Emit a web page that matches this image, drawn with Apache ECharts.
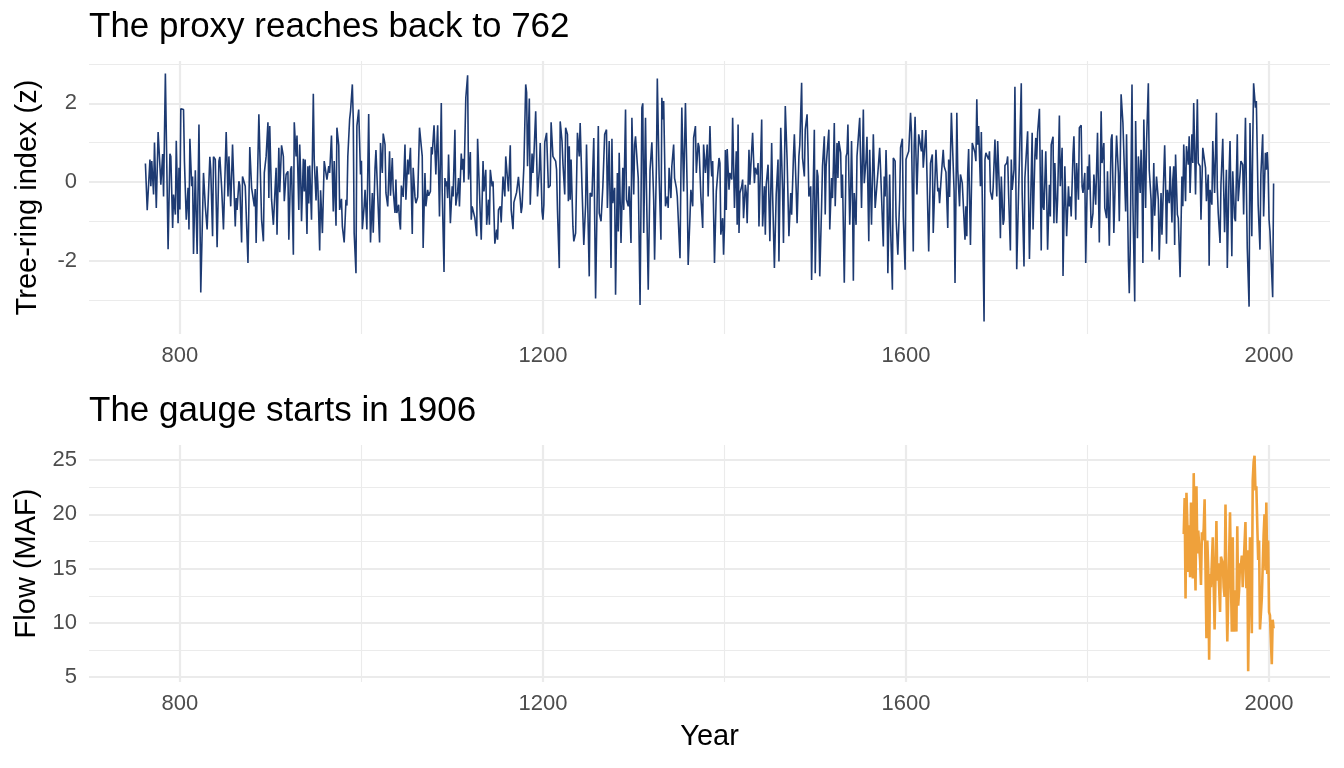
<!DOCTYPE html>
<html>
<head>
<meta charset="utf-8">
<script src="https://cdn.jsdelivr.net/npm/echarts@6/dist/echarts.min.js"></script>
<style>
  html, body { margin: 0; padding: 0; background: #ffffff; }
  #chart { width: 1344px; height: 768px; }
</style>
</head>
<body>
<div id="chart"></div>
<script>
// ---------- data ----------
const tree_years = [
762,764,767,768,769,771,772,774,776,778,779,781,782,784,787,789,790,792,793,795,796,797,798,799,800,801,804,805,807,809,810,811,813,814,815,817,818,819,821,822,823,825,826,828,830,833,834,836,837,839,841,843,844,846,848,851,853,854,856,858,861,862,863,865,866,868,869,871,872,875,877,879,880,882,883,884,887,890,892,893,895,897,898,899,901,903,905,906,907,909,910,912,914,915,
917,919,920,922,923,925,926,928,929,931,932,933,934,936,937,938,940,941,942,943,945,947,948,950,951,952,954,955,957,959,961,962,964,965,967,969,970,972,973,975,976,978,979,981,983,984,985,987,988,990,991,992,994,995,997,999,1000,1001,1003,1004,1006,1008,1009,1010,1012,1013,1015,1016,1018,1020,1021,1023,1024,1026,1027,1029,1031,1032,1034,1035,1037,1038,1039,1041,1042,1043,1044,1046,1048,1049,1051,1052,1054,1056,1057,1059,1060,1062,1064,1065,1067,1068,1070,1071,
1073,1074,1076,1077,1078,1080,1082,1083,1084,1086,1088,1089,1091,1092,1093,1094,1095,1096,1098,1100,1101,1103,1104,1106,1107,1108,1110,1111,1112,1113,1115,1117,1118,1120,1121,1122,1124,1125,1127,1128,1129,1131,1132,1134,1135,1137,1138,1140,1141,1142,1144,1145,1147,1149,1150,1151,1153,1154,1156,1158,1159,1161,1162,1164,1165,1167,1168,1170,1171,1173,1175,1176,1177,1179,1181,1182,1183,1185,1186,1188,1189,1190,1192,1194,1196,1197,1199,1200,1201,1202,1204,1206,1208,1209,1211,1212,1214,1215,1216,1218,1219,1221,1222,1224,1225,1227,1228,
1229,1230,1231,1233,1234,1236,1238,1240,1241,1243,1245,1247,1248,1250,1251,1252,1254,1256,1258,1261,1262,1264,1266,1268,1270,1271,1273,1275,1276,1277,1279,1280,1282,1283,1284,1286,1288,1289,1291,1292,1294,1295,1297,1298,1300,1301,1302,1304,1305,1307,1309,1310,1311,1313,1314,1316,1318,1320,1322,1323,1325,1326,1328,1330,1331,1332,1333,1335,1337,1338,1339,1341,1342,1344,1345,1347,1348,1351,1352,1353,1355,1357,1359,1360,1362,1363,1365,1366,1368,1369,1371,1372,1374,1376,1377,1379,1381,1382,1384,1385,
1386,1387,1389,1391,1392,1394,1395,1396,1398,1399,1400,1401,1402,1403,1405,1406,1408,1409,1410,1411,1413,1414,1415,1416,1417,1419,1420,1421,1423,1424,1425,1427,1428,1430,1431,1433,1434,1436,1437,1438,1439,1441,1442,1444,1445,1446,1448,1449,1450,1452,1453,1455,1457,1459,1460,1462,1464,1465,1467,1469,1471,1473,1474,1476,1477,1479,1480,1482,1483,1485,1486,1488,1489,1491,1492,1493,1495,1496,1498,1499,1500,1502,1503,1505,1507,1508,1510,1511,1512,1514,1515,1516,1518,1519,1520,1521,1522,1524,1525,1526,1528,1529,1530,1531,1532,1534,1535,1536,1538,1539,1540,
1541,1542,1543,1545,1546,1548,1549,1551,1553,1554,1556,1557,1559,1560,1562,1564,1566,1567,1569,1571,1572,1573,1575,1576,1577,1578,1579,1580,1582,1583,1585,1586,1588,1589,1591,1593,1594,1596,1597,1599,1600,1601,1603,1605,1606,1608,1609,1610,1612,1614,1615,1617,1618,1619,1622,1624,1625,1627,1629,1630,1632,1633,1635,1636,1637,1639,1641,1642,1644,1646,1647,1648,1650,1651,1653,1654,1656,1657,1659,1660,1662,1663,1665,1666,1667,1668,1669,1671,1673,1674,1676,1677,1678,1679,1680,1682,1683,1686,1687,1688,1690,1691,1692,1693,1695,1696,1698,
1700,1701,1703,1704,1705,1707,1708,1709,1711,1712,1713,1715,1716,1717,1719,1720,1722,1724,1725,1727,1728,1730,1731,1733,1734,1736,1739,1740,1742,1743,1744,1745,1747,1749,1750,1751,1752,1754,1755,1756,1758,1759,1760,1762,1763,1764,1766,1767,1769,1770,1772,1773,1775,1777,1779,1780,1781,1782,1784,1785,1787,1788,1790,1791,1793,1794,1795,1797,1798,1800,1801,1802,1804,1806,1807,1809,1811,1813,1815,1816,1818,1819,1821,1822,1823,1824,1826,1827,1829,1831,1832,1834,1835,1836,1837,1839,1840,1842,1843,1845,1846,1847,1849,1850,1852,1853,
1855,1856,1858,1859,1860,1861,1862,1864,1865,1867,1868,1870,1871,1873,1874,1876,1878,1879,1881,1882,1885,1886,1887,1888,1890,1891,1893,1894,1895,1896,1897,1899,1900,1902,1904,1905,1906,1908,1909,1911,1912,1913,1915,1916,1917,1919,1921,1922,1924,1925,1927,1928,1930,1931,1933,1934,1935,1937,1938,1940,1942,1943,1944,1946,1947,1949,1950,1951,1953,1954,1956,1957,1959,1960,1962,1963,1965,1966,1968,1969,1971,1972,1974,1975,1976,1978,1979,1981,1982,1983,1985,1986,1988,1989,1990,1991,1993,1994,1996,1997,1998,1999,2000,2001,2004,2005
];
const tree_z = [
0.47,-0.72,0.57,-0.11,0.53,-0.32,1.0,-0.66,1.27,0.4,-0.07,0.71,-0.37,2.76,-1.71,0.72,0.65,-1.17,-0.32,-0.83,1.05,1.0,-1.05,0.36,-0.7,1.86,1.84,0.53,-0.96,-0.15,-1.21,1.1,-0.11,0.14,-1.83,0.3,-0.88,-1.83,1.46,1.5,-2.81,-0.79,0.23,-0.62,-1.21,0.64,0.31,-1.38,0.64,0.57,-1.66,0.53,0.64,-0.15,-1.21,1.27,-0.37,0.65,-0.62,0.95,-1.13,-0.41,-0.71,0.02,-0.09,-1.54,0.14,0.1,-0.11,-2.06,0.89,-0.15,-0.2,-0.62,-0.18,-1.55,1.72,-0.96,-1.51,0.23,0.65,1.52,-0.41,1.42,-0.45,-1.09,-0.11,0.36,-1.34,0.87,-0.26,0.93,0.65,-0.49,
0.19,0.27,-1.47,0.31,0.4,-1.85,1.52,0.65,1.18,-0.71,0.95,0.23,-1.0,0.59,-0.24,0.57,-1.32,0.4,-0.55,0.42,-0.96,2.24,0.57,-0.47,0.4,-0.07,-1.74,-0.21,-1.3,0.53,0.57,0.06,0.4,0.23,1.18,-0.75,0.53,-1.11,1.38,0.93,-0.71,-0.43,-1.13,-1.54,-0.45,-0.6,0.64,1.59,1.8,2.48,1.59,-1.3,-2.32,1.42,1.84,0.19,0.54,-1.2,-0.62,-0.2,-1.21,1.73,-0.11,-1.54,-0.28,-1.29,0.36,0.81,0.84,-1.54,0.99,0.23,1.23,0.95,-0.28,-0.62,0.78,-0.35,0.61,-0.2,-0.79,0.06,-0.79,-0.58,-1.0,-1.21,-0.09,-0.38,0.95,-0.45,0.57,0.19,0.87,-1.32,0.36,-0.38,-0.54,-0.38,1.38,1.42,0.65,-1.68,0.23,-0.62,
-0.2,-0.35,-0.24,0.89,0.7,1.44,0.19,0.89,1.44,-0.88,2.01,-0.24,-2.29,0.1,-0.11,0.02,-0.41,0.7,-1.05,-0.11,-0.37,1.33,-0.6,-0.24,0.1,-0.62,0.72,0.31,0.59,-0.01,2.14,2.71,0.06,0.76,-0.96,-0.62,-0.58,-0.92,-1.38,1.1,1.08,-0.88,-1.47,0.53,-0.24,0.31,-1.09,-0.45,-1.09,0.31,-0.11,0.02,-1.57,-1.21,-1.47,-0.71,-0.62,-1.03,0.14,-0.37,0.65,0.64,-0.24,0.93,-0.71,-1.2,-0.52,-0.49,-0.26,0.13,-0.45,-0.79,-0.62,0.4,2.48,2.27,0.4,2.12,-0.58,0.72,0.23,0.65,1.8,-0.37,0.31,0.99,-0.75,-0.96,-0.58,1.01,1.25,-0.15,-0.09,1.52,0.65,0.61,0.53,0.31,-0.71,-2.19,1.54,1.04,0.48,-0.32,1.38,1.21,-0.49,
0.91,-0.45,0.57,-1.13,-1.51,-1.3,1.25,0.65,1.5,-0.11,-1.6,-0.58,0.95,0.99,-2.4,-0.28,-0.37,1.12,-2.96,1.42,-0.79,-1.0,-0.11,1.21,1.33,-0.66,1.04,-2.19,1.1,-0.54,-0.15,-2.87,0.23,-1.26,0.74,-1.55,0.36,-0.71,1.84,-0.45,-0.62,-0.11,-1.55,1.63,-0.32,0.95,1.16,0.44,0.1,-3.13,1.89,2.0,-1.3,1.63,-0.11,-2.74,0.31,1.01,-0.45,-1.98,0.4,2.63,0.14,-1.47,2.14,1.59,2.06,-0.62,-0.37,-0.66,0.36,-0.41,0.4,0.95,0.1,-0.15,-0.37,-1.94,0.19,1.89,-0.24,2.01,-0.28,-2.11,-0.88,-0.2,-0.62,1.12,1.42,0.23,0.99,0.89,-0.37,-1.17,0.95,0.23,0.95,-0.37,1.42,0.57,
0.14,0.53,-2.06,-0.24,-0.2,0.61,0.48,-1.34,-0.92,-1.85,-1.13,0.81,-0.71,0.84,-0.2,0.23,0.06,1.63,0.48,-0.66,0.78,-1.09,1.46,-1.3,-0.28,-0.11,0.06,-0.92,-0.07,-0.28,-1.05,0.82,-0.07,0.82,1.25,-0.03,0.36,0.19,0.48,-1.13,-1.17,1.59,-1.13,-0.11,-1.34,-0.07,0.44,-0.45,-1.51,0.99,-0.28,-2.19,-0.32,0.57,-2.02,1.38,-0.2,-1.55,1.93,0.57,-1.38,-0.28,-0.83,0.65,1.21,-0.2,-1.05,0.65,0.95,2.52,0.61,0.14,1.33,1.72,0.82,-0.37,-0.11,-2.49,0.14,1.33,-2.32,0.31,0.14,-2.4,-0.62,0.4,1.16,-0.83,0.4,0.36,1.33,-1.21,0.1,-0.41,0.4,1.5,-0.62,0.99,0.1,1.04,0.74,-0.41,0.19,0.19,-2.56,0.65,0.74,1.46,-1.09,-0.28,1.04,
-0.28,-2.51,-0.28,-1.09,0.65,0.65,1.63,-0.66,1.84,-0.03,0.57,1.15,-1.51,0.82,-1.09,1.21,-0.66,-0.37,0.23,0.87,0.31,0.31,-1.64,0.14,-0.37,0.81,-0.11,-2.32,0.19,-1.13,-2.74,0.61,0.53,-0.88,-1.85,-0.45,0.87,1.1,-0.88,-2.23,0.57,0.65,0.78,1.76,1.25,-1.77,0.91,1.66,-0.32,1.21,1.23,0.78,1.32,0.36,1.32,-0.75,-1.77,0.48,0.7,-1.3,-1.34,0.82,-0.24,-0.15,-0.54,0.19,0.82,0.4,0.25,-1.17,0.57,-0.38,1.76,1.08,-0.24,-2.57,1.76,0.31,-0.62,0.19,-0.03,0.02,-1.47,-0.62,-1.38,0.23,0.84,-1.6,0.99,1.01,0.74,0.53,2.1,0.95,1.42,-0.11,1.27,-3.55,0.57,0.74,0.78,0.57,0.78,-0.24,-0.45,-0.15,1.08,
-0.37,1.04,-0.28,-1.43,0.14,-1.09,-0.96,0.42,0.48,0.65,-0.28,-1.74,0.57,-0.2,0.31,2.42,-2.22,-0.28,0.57,2.51,-0.28,-2.15,0.1,0.14,1.29,-1.96,1.25,-1.21,0.65,1.12,0.57,1.25,1.86,-1.74,0.82,-0.62,-0.71,0.78,-0.32,-1.72,-0.07,-0.88,0.95,1.15,-1.05,0.48,-1.05,-0.45,1.69,-0.11,0.87,-2.39,0.4,-1.38,-0.11,-0.62,-0.37,-0.88,0.7,1.16,-0.96,0.48,-0.45,1.38,1.44,-0.11,-0.28,0.23,-2.06,0.4,-0.2,0.7,-1.17,-0.79,0.19,-0.58,1.25,-1.54,1.8,0.48,0.99,-0.66,-0.92,0.27,-0.71,-1.62,1.08,1.21,-1.3,0.44,1.18,0.23,-1.0,0.36,2.23,1.5,1.55,-0.75,1.21,-1.98,-2.83,-1.72,2.48,-0.54,-3.04,1.55,
-1.43,0.65,-0.28,0.82,0.06,-2.06,1.59,-0.66,0.99,2.51,0.31,-0.45,-1.77,0.48,-0.86,0.14,-0.45,-1.98,-0.28,-1.34,0.93,-0.07,-1.57,-0.2,-0.54,0.4,-1.03,0.06,0.4,-1.6,0.7,-0.83,-0.92,-2.42,0.14,-0.62,0.95,-0.49,0.91,0.44,1.16,-0.28,1.21,0.48,2.01,-0.32,2.1,0.48,0.4,-0.96,0.87,0.82,0.36,-0.49,0.19,-2.13,-0.2,-0.58,1.04,-0.28,1.76,-0.15,-0.79,-1.55,-0.07,1.1,-0.15,-1.28,0.31,-2.19,0.27,1.04,-1.89,0.27,-0.92,-1.0,1.21,-0.49,-0.45,0.53,0.44,-0.83,1.63,-0.11,-1.68,-3.17,1.5,-1.38,0.95,2.51,1.89,2.06,-0.58,-0.62,-1.72,0.19,1.21,-0.88,0.74,0.31,0.76,0.27,-0.96,-1.26,-2.93,-0.04
];

const gauge_years = [
1906,1907,1908,1909,1910,1911,1912,1913,1914,1916,1917,1918,1919,1920,1921,1922,1924,1925,1926,1927,1928,1929,1931,1932,1933,1934,1935,1936,1938,1939,1940,1942,1943,1944,1945,1946,1947,1949,1950,1951,1952,1953,1954,1956,1957,1958,1959,1960,1961,1963,1964,1965,1966,1967,1968,1969,1970,1971,1972,1974,1975,1976,1977,1978,1979,1981,1982,1983,1984,1985,1986,1987,1988,1989,1990,1992,1993,1994,1995,1996,1997,1998,1999,2000,2001,2003,2004,2005
];
const gauge_maf = [
18.2,21.5,12.25,22.0,19.1,14.7,19.0,14.2,21.1,14.1,23.8,16.7,13.0,22.6,16.4,18.5,15.8,13.5,18.35,17.6,18.7,21.4,8.6,17.6,14.85,6.6,14.5,13.3,17.9,18.0,9.4,19.4,13.9,15.5,15.6,11.0,16.1,15.5,13.3,12.4,20.9,13.3,8.3,16.1,20.2,13.9,9.2,17.9,9.2,13.0,9.2,18.9,11.6,13.0,15.5,15.3,16.2,13.3,13.2,19.3,13.2,16.7,5.55,12.6,17.9,9.05,23.1,24.8,25.4,22.2,22.6,19.1,15.8,17.6,9.4,12.25,12.1,18.05,20.0,14.85,21.1,14.5,17.6,11.0,10.7,6.2,10.3,9.5
];

// tick labels and grid breaks
const x_major = [800, 1200, 1600, 2000];
const x_minor = [1000, 1400, 1800];
const top_y_major = [-2, 0, 2];
const top_y_minor = [-3, -1, 1, 3];
const bot_y_major = [5, 10, 15, 20, 25];
const bot_y_minor = [7.5, 12.5, 17.5, 22.5];

const titles = ['The proxy reaches back to 762', 'The gauge starts in 1906'];
const yNames = ['Tree-ring index (z)', 'Flow (MAF)'];
const xName = 'Year';

// ---------- chart ----------
const FONT = "'Liberation Sans', Arial, Helvetica, sans-serif";
const GRID_COLOR = '#EBEBEB';
const expand = (lo, hi) => [lo - 0.05 * (hi - lo), hi + 0.05 * (hi - lo)];

const allYears = tree_years.concat(gauge_years);
const xRange = expand(Math.min(...allYears), Math.max(...allYears));
const topRange = expand(Math.min(...tree_z), Math.max(...tree_z));
const botRange = expand(Math.min(...gauge_maf), Math.max(...gauge_maf));

const near = (arr) => (v) => arr.some(t => Math.abs(t - v) < 1e-6) ? String(v) : '';

function gridLines(yMajor, yMinor) {
  const d = [];
  x_minor.forEach(v => d.push({ xAxis: v, lineStyle: { width: 1.1 } }));
  yMinor.forEach(v => d.push({ yAxis: v, lineStyle: { width: 1.1 } }));
  x_major.forEach(v => d.push({ xAxis: v, lineStyle: { width: 2.2 } }));
  yMajor.forEach(v => d.push({ yAxis: v, lineStyle: { width: 2.2 } }));
  return {
    silent: true, z: 1, animation: false,
    symbol: ['none', 'none'],
    label: { show: false },
    emphasis: { disabled: true },
    lineStyle: { color: GRID_COLOR, type: 'solid' },
    data: d
  };
}

function xAxisDef(gridIndex, withName) {
  const a = {
    type: 'value', gridIndex,
    min: xRange[0], max: xRange[1],
    minInterval: 400, maxInterval: 400,
    axisLine: { show: false }, axisTick: { show: false },
    splitLine: { show: false },
    axisLabel: { formatter: near(x_major), fontSize: 22, color: '#4D4D4D', margin: 11, fontFamily: FONT }
  };
  if (withName) {
    a.name = xName; a.nameLocation = 'middle'; a.nameGap = 40;
    a.nameTextStyle = { fontSize: 29, color: '#000', fontFamily: FONT };
  }
  return a;
}

function yAxisDef(gridIndex, range, step, ticks, name) {
  return {
    type: 'value', gridIndex,
    min: range[0], max: range[1],
    minInterval: step, maxInterval: step,
    name, nameLocation: 'middle', nameGap: 47,
    nameTextStyle: { fontSize: 29, color: '#000', fontFamily: FONT },
    axisLine: { show: false }, axisTick: { show: false },
    splitLine: { show: false },
    axisLabel: { formatter: near(ticks), fontSize: 22, color: '#4D4D4D', margin: 12, fontFamily: FONT }
  };
}

const chart = echarts.init(document.getElementById('chart'), null, { renderer: 'canvas' });
chart.setOption({
  backgroundColor: '#ffffff',
  animation: false,
  title: [
    { text: titles[0], left: 89, top: 10, padding: 0,
      textStyle: { fontSize: 35, fontWeight: 'normal', color: '#000', fontFamily: FONT } },
    { text: titles[1], left: 89, top: 394, padding: 0,
      textStyle: { fontSize: 35, fontWeight: 'normal', color: '#000', fontFamily: FONT } }
  ],
  grid: [
    { left: 89, width: 1241, top: 61, height: 273, containLabel: false, outerBoundsMode: 'none' },
    { left: 89, width: 1241, top: 445, height: 237, containLabel: false, outerBoundsMode: 'none' }
  ],
  xAxis: [xAxisDef(0, false), xAxisDef(1, true)],
  yAxis: [
    yAxisDef(0, topRange, 2, top_y_major, yNames[0]),
    yAxisDef(1, botRange, 5, bot_y_major, yNames[1])
  ],
  series: [
    {
      type: 'line', xAxisIndex: 0, yAxisIndex: 0, z: 10,
      data: tree_years.map((y, i) => [y, tree_z[i]]),
      showSymbol: false, symbol: 'none',
      lineStyle: { color: '#1d3a72', width: 1.6 },
      silent: true,
      markLine: gridLines(top_y_major, top_y_minor)
    },
    {
      type: 'line', xAxisIndex: 1, yAxisIndex: 1, z: 10,
      data: gauge_years.map((y, i) => [y, gauge_maf[i]]),
      showSymbol: false, symbol: 'none',
      lineStyle: { color: '#EFA13B', width: 2.6 },
      silent: true,
      markLine: gridLines(bot_y_major, bot_y_minor)
    }
  ]
});
</script>
</body>
</html>
